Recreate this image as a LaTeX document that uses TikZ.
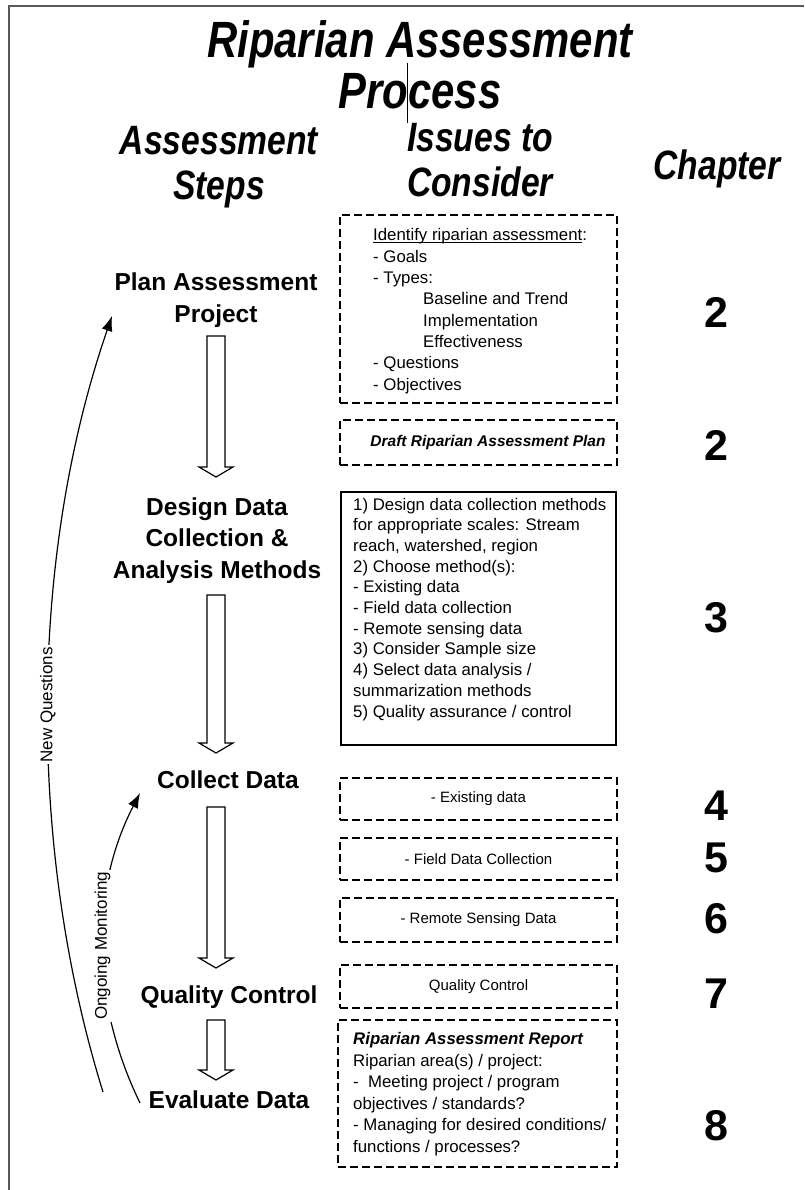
\documentclass[tikz,border=0pt]{standalone}
\usepackage{fontspec}
\setmainfont{Liberation Sans}
\newfontfamily\narrowfont{Liberation Sans}[FakeStretch=0.82]
\usetikzlibrary{arrows.meta,calc}

% underline that sits close to the baseline
\newcommand\ulx[1]{\setbox0\hbox{#1}\rlap{\rule[-1.7pt]{\wd0}{0.9pt}}\box0}

% hollow block arrow from a top coordinate down to a tip coordinate
\newcommand\hollowarrow[2]{%
  \draw[blockarrow] let \p1=(#1), \p2=(#2) in
    (\x1-9pt,\y1) -- (\x1+9pt,\y1) -- (\x1+9pt,\y2+10pt) -- (\x1+17pt,\y2+10pt)
    -- (\x1,\y2) -- (\x1-17pt,\y2+10pt) -- (\x1-9pt,\y2+10pt) -- cycle;}

\begin{document}
\begin{tikzpicture}[x=1pt,y=-1pt,
  framecol/.style={draw=black!65, line width=1.6pt},
  titletext/.style={font={\narrowfont\fontsize{51}{51}\selectfont\bfseries\itshape},
    align=center, inner sep=0pt},
  headtext/.style={font={\narrowfont\fontsize{41}{45}\selectfont\bfseries\itshape},
    align=center, inner sep=0pt},
  steptext/.style={font={\fontsize{24.5}{31.5}\selectfont\bfseries},
    align=center, inner sep=0pt},
  chapnum/.style={font={\fontsize{43}{43}\selectfont\bfseries}, inner sep=0pt},
  dashbox/.style={draw, line width=1.8pt, dash pattern=on 8pt off 4pt,
    inner sep=0pt, minimum width=277pt},
  solidbox/.style={draw, line width=1.2pt, inner sep=0pt},
  boxtext/.style={font={\fontsize{16.8}{21.3}\selectfont}, align=left, inner sep=0pt},
  smallboxtext/.style={font={\fontsize{15}{18}\selectfont}},
  blockarrow/.style={draw, fill=white, line width=1.2pt, line join=miter},
  loopline/.style={draw, line width=1.2pt, -{Latex[length=15pt,width=11pt]}},
  looplabel/.style={fill=white, inner sep=2pt, font={\fontsize{17}{17}\selectfont}},
]
\useasboundingbox (0,0) rectangle (804,1190);
\fill[white] (0,0) rectangle (804,1190);

% page frame
\draw[framecol] (9,1190) -- (9,6) -- (804,6);

% title and column heads (base anchors sit on the last line)
\node[titletext, anchor=base] (title) at (420,109) {Riparian Assessment\\Process};
\draw[line width=0.8pt] (407,63) -- (407,123);
\node[headtext, anchor=base] (hsteps) at (219,200) {Assessment\\Steps};
\node[headtext, anchor=base] (hissues) at (480,197) {Issues to\\Consider};
\node[headtext, anchor=base] (hchap) at (717,180) {Chapter};

% assessment steps
\node[steptext, anchor=base] (plan) at (216,322) {Plan Assessment\\Project};
\node[steptext, anchor=base] (design) at (217,578) {Design Data\\Collection \&\\Analysis Methods};
\node[steptext, anchor=base] (collect) at (228,788) {Collect Data};
\node[steptext, anchor=base] (quality) at (229,1003) {Quality Control};
\node[steptext, anchor=base] (evaluate) at (229,1108) {Evaluate Data};

% block arrows between the steps
\coordinate (a1top) at (216,336);  \coordinate (a1tip) at (216,477);
\coordinate (a2top) at (216,595);  \coordinate (a2tip) at (216,753);
\coordinate (a3top) at (216,807);  \coordinate (a3tip) at (216,968);
\coordinate (a4top) at (216,1020); \coordinate (a4tip) at (216,1080);
\hollowarrow{a1top}{a1tip}
\hollowarrow{a2top}{a2tip}
\hollowarrow{a3top}{a3tip}
\hollowarrow{a4top}{a4tip}

% issues to consider
\node[dashbox, minimum height=188pt] (box1) at (478.5,309) {};
\node[boxtext, anchor=base west] (box1txt) at (373,390)
  {\ulx{Identify riparian assessment}:\\
   - Goals\\
   - Types:\\
   \hspace*{50pt}Baseline and Trend\\
   \hspace*{50pt}Implementation\\
   \hspace*{50pt}Effectiveness\\
   - Questions\\
   - Objectives};

\node[dashbox, minimum height=45pt] (box2) at (478.5,442.5) {};
\node[inner sep=0pt, font={\fontsize{15.5}{18}\selectfont\bfseries\itshape}]
  (box2txt) at (488,442.5) {Draft Riparian Assessment Plan};

\node[solidbox, minimum width=275pt, minimum height=253pt] (box3) at (478.5,618.5) {};
\node[boxtext, anchor=base west, font={\fontsize{16.8}{20.7}\selectfont}] (box3txt) at (353,717)
  {1) Design data collection methods\\
   for appropriate scales: Stream\\
   reach, watershed, region\\
   2) Choose method(s):\\
   - Existing data\\
   - Field data collection\\
   - Remote sensing data\\
   3) Consider Sample size\\
   4) Select data analysis /\\
   summarization methods\\
   5) Quality assurance / control};

\node[dashbox, minimum height=42pt, smallboxtext] (box4) at (478.5,799) {- Existing data};
\node[dashbox, minimum height=42pt, smallboxtext] (box5) at (478.5,859) {- Field Data Collection};
\node[dashbox, minimum height=44pt, smallboxtext] (box6) at (478.5,920) {- Remote Sensing Data};
\node[dashbox, minimum height=43pt, smallboxtext] (box7) at (478.5,986.5) {Quality Control};

\node[dashbox, minimum width=279pt, minimum height=147pt] (box8) at (477.5,1093.5) {};
\node[boxtext, anchor=base west, font={\fontsize{16.8}{21.5}\selectfont}] (box8txt) at (353,1152)
  {\textbf{\textit{Riparian Assessment Report}}\\
   Riparian area(s) / project:\\
   -\ \ Meeting project / program\\
   objectives / standards?\\
   - Managing for desired conditions/\\
   functions / processes?};

% chapter numbers
\node[chapnum, anchor=base] (c1) at (716,327) {2};
\node[chapnum, anchor=base] (c2) at (716,460) {2};
\node[chapnum, anchor=base] (c3) at (716,632) {3};
\node[chapnum, anchor=base] (c4) at (716,820) {4};
\node[chapnum, anchor=base] (c5) at (716,872) {5};
\node[chapnum, anchor=base] (c6) at (716,933) {6};
\node[chapnum, anchor=base] (c7) at (716,1008) {7};
\node[chapnum, anchor=base] (c8) at (716,1140) {8};

% feedback loops
\coordinate (nqtail) at (103,1092);
\coordinate (nqtip) at (112,316);
\draw[loopline] (nqtail) .. controls (28,850) and (28,560) ..
  node[looplabel, pos=0.5, rotate=90] (nqlabel) {New Questions} (nqtip);

\coordinate (omtail) at (140,1103);
\coordinate (omtip) at (140,793);
\draw[loopline] (omtail) .. controls (90,1000) and (90,890) ..
  node[looplabel, pos=0.5, rotate=90] (omlabel) {Ongoing Monitoring} (omtip);
\end{tikzpicture}
\end{document}
